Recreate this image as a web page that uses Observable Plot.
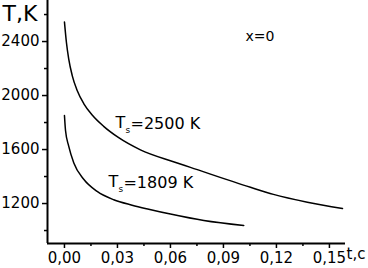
<!DOCTYPE html>
<html><head><meta charset="utf-8">
<script src="https://cdn.jsdelivr.net/npm/d3@7"></script>
<script src="https://cdn.jsdelivr.net/npm/@observablehq/plot@0.6"></script>
<style>body{margin:0;background:#fff}</style>
</head><body><div id="chart"></div>
<script>
// Upper curve (Ts = 2500 K)
const tUpper = [0, 0.0011, 0.0024, 0.0044, 0.0072, 0.0109, 0.0157, 0.0222, 0.0307, 0.0430, 0.0617, 0.0713, 0.1053, 0.1183, 0.1375, 0.1574];
const TUpper = [2545, 2395, 2272, 2148, 2037, 1941, 1856, 1772, 1688, 1598, 1510, 1468, 1320, 1268, 1210, 1163];
// Lower curve (Ts = 1809 K)
const tLower = [0, 0.0006, 0.0024, 0.0053, 0.0109, 0.0185, 0.0279, 0.0383, 0.0477, 0.0600, 0.0789, 0.1015];
const TLower = [1852, 1741, 1625, 1500, 1380, 1290, 1228, 1188, 1158, 1122, 1074, 1037];

const xMajor = [0, 0.03, 0.06, 0.09, 0.12, 0.15];
const xMinor = [0.015, 0.045, 0.075, 0.105, 0.135];
const yMajor = [1200, 1600, 2000, 2400];
const yMinor = [1000, 1400, 1800, 2200, 2600];
const xDomain = [-0.0096, 0.1591];
const yDomain = [904, 2704];

// Curve labels: anchor of the "T" glyph
const labelT = [0.0289, 0.0249];
const labelTemp = [1844, 1407];
const labelText = ["=2500 K", "=1809 K"];

const upper = tUpper.map((t, i) => ({t, T: TUpper[i]}));
const lower = tLower.map((t, i) => ({t, T: TLower[i]}));
const labels = labelT.map((t, i) => ({t, T: labelTemp[i], text: labelText[i]}));

const fmtX = d => d.toFixed(2).replace(".", ",");

const chart = Plot.plot({
  width: 368, height: 268,
  marginLeft: 47, marginRight: 23, marginTop: 0, marginBottom: 25,
  x: {domain: xDomain},
  y: {domain: yDomain},
  style: {fontFamily: "DejaVu Sans", background: "white", color: "black", overflow: "visible"},
  marks: [
    Plot.axisY({ticks: yMajor, tickSize: 5, tickPadding: 3, fontSize: 15, label: null, strokeWidth: 1.5, tickFormat: d => String(d)}),
    Plot.axisY({ticks: yMinor, tickSize: 3, label: null, strokeWidth: 1.5, tickFormat: () => ""}),
    Plot.axisX({ticks: xMajor, tickSize: 5, tickPadding: 4, fontSize: 15, label: null, strokeWidth: 1.5, tickFormat: fmtX}),
    Plot.axisX({ticks: xMinor, tickSize: 3, label: null, strokeWidth: 1.5, tickFormat: () => ""}),
    Plot.ruleX([xDomain[0]], {strokeWidth: 2}),
    Plot.ruleY([yDomain[0]], {strokeWidth: 2}),
    Plot.line(upper, {x: "t", y: "T", curve: "monotone-x", strokeWidth: 1.5}),
    Plot.line(lower, {x: "t", y: "T", curve: "monotone-x", strokeWidth: 1.5}),
    Plot.text(labels, {x: "t", y: "T", text: () => "T", textAnchor: "start", lineAnchor: "top", fontSize: 16}),
    Plot.text(labels, {x: "t", y: "T", text: () => "s", textAnchor: "start", lineAnchor: "top", fontSize: 9, dx: 10, dy: 10}),
    Plot.text(labels, {x: "t", y: "T", text: "text", textAnchor: "start", lineAnchor: "top", fontSize: 16, dx: 15, dy: 1}),
    Plot.text(["x=0"], {x: [0.1025], y: [2481], text: d => d, textAnchor: "start", lineAnchor: "top", fontSize: 14}),
    Plot.text(["T,K"], {frameAnchor: "top-left", dx: -45, dy: 5, textAnchor: "start", lineAnchor: "top", fontSize: 22}),
    Plot.text(["t,c"], {frameAnchor: "bottom-right", dx: 1, dy: 5, textAnchor: "start", lineAnchor: "top", fontSize: 15})
  ]
});
document.getElementById("chart").appendChild(chart);
</script>
</body></html>
